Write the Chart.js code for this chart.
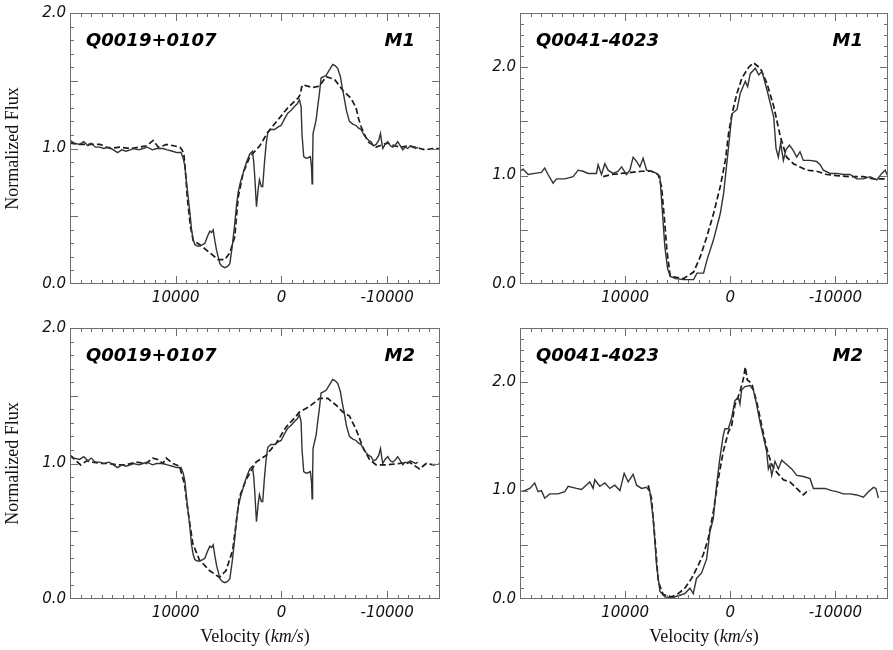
<!DOCTYPE html>
<html>
<head>
<meta charset="utf-8">
<script src="https://cdn.jsdelivr.net/npm/chart.js"></script>
<style>
    html, body { margin: 0; padding: 0; background: #fff; }
    #wrap { position: relative; width: 893px; height: 650px; }
    canvas { position: absolute; }
</style>
</head>
<body>
<div id="wrap">
    <canvas id="tl" width="446" height="312" style="left:0;top:0"></canvas>
    <canvas id="tr" width="447" height="312" style="left:446px;top:0"></canvas>
    <canvas id="bl" width="446" height="338" style="left:0;top:312px"></canvas>
    <canvas id="br" width="447" height="338" style="left:446px;top:312px"></canvas>
</div>
<script>
// Q0019+0107 observed spectrum (same in M1 and M2 panels)
const q0019Vel = [20000, 19600, 19100, 18700, 18300, 18000, 17600, 17200, 16800, 16300, 15900, 15500, 15100, 14700, 14300, 14000, 13500, 13100, 12700, 12200, 11800, 11200, 10800, 10300, 9900, 9500, 9300, 9130, 8980, 8820, 8650, 8500, 8350, 8190, 7950, 7715, 7450, 7240, 7000, 6770, 6600, 6455, 6300, 6140, 5980, 5825, 5600, 5350, 5100, 4880, 4650, 4410, 4250, 4090, 3850, 3620, 3300, 2990, 2740, 2620, 2520, 2420, 2360, 2200, 2080, 1900, 1770, 1610, 1450, 1290, 1000, 660, 300, 30, -300, -600, -900, -1230, -1500, -1700, -1860, -1950, -2110, -2300, -2490, -2740, -2850, -2900, -2950, -2990, -3280, -3450, -3600, -3750, -4000, -4230, -4540, -4860, -5100, -5330, -5580, -5750, -5900, -6150, -6430, -6750, -7060, -7300, -7540, -7800, -8010, -8250, -8480, -8700, -8960, -9200, -9370, -9500, -9590, -9800, -10060, -10300, -10530, -10800, -11000, -11250, -11480, -11700, -11950, -12200, -12430, -12700, -12900];
const q0019Flux = [1.06, 1.04, 1.03, 1.05, 1.02, 1.04, 1.01, 1.01, 1.00, 1.01, 0.99, 0.97, 0.99, 0.98, 0.99, 1.00, 0.99, 1.00, 1.01, 0.99, 1.00, 1.00, 0.99, 0.98, 0.97, 0.97, 0.93, 0.87, 0.75, 0.64, 0.52, 0.40, 0.33, 0.29, 0.28, 0.28, 0.29, 0.30, 0.35, 0.39, 0.38, 0.40, 0.32, 0.25, 0.20, 0.15, 0.13, 0.12, 0.13, 0.15, 0.28, 0.45, 0.58, 0.68, 0.76, 0.82, 0.90, 0.96, 0.98, 0.90, 0.79, 0.65, 0.57, 0.70, 0.77, 0.72, 0.72, 0.89, 1.03, 1.12, 1.14, 1.14, 1.16, 1.17, 1.22, 1.26, 1.28, 1.31, 1.33, 1.36, 1.31, 1.10, 0.94, 0.93, 0.93, 0.94, 0.86, 0.74, 0.90, 1.11, 1.21, 1.32, 1.41, 1.52, 1.53, 1.54, 1.58, 1.62, 1.61, 1.59, 1.53, 1.45, 1.39, 1.28, 1.20, 1.18, 1.17, 1.15, 1.14, 1.10, 1.08, 1.06, 1.05, 1.02, 1.03, 1.06, 1.11, 1.04, 1.00, 1.03, 1.05, 1.02, 1.01, 1.03, 1.05, 1.02, 0.99, 1.01, 1.00, 1.02, 1.01, 1.00, 1.01];

// Q0019+0107 model M1
const q0019M1Vel = [20000, 19000, 18110, 17165, 16220, 15275, 14330, 13385, 12800, 12440, 12130, 11650, 11200, 10865, 10200, 9605, 9400, 9230, 9050, 8910, 8600, 8345, 7715, 6770, 5980, 5350, 4880, 4410, 4250, 4090, 3620, 2990, 2045, 1290, 345, -600, -1545, -1800, -1900, -2020, -2960, -3600, -4230, -5015, -5800, -6590, -7060, -7300, -7540, -8170, -8960, -9600, -10060, -10700, -11300, -12000, -12600, -13100, -13630, -14300, -14890];
const q0019M1Flux = [1.04, 1.03, 1.03, 1.03, 1.00, 1.01, 1.00, 1.01, 1.02, 1.04, 1.06, 1.01, 1.02, 1.03, 1.02, 1.01, 0.99, 0.96, 0.80, 0.64, 0.42, 0.32, 0.29, 0.23, 0.18, 0.18, 0.23, 0.35, 0.50, 0.64, 0.82, 0.94, 1.02, 1.12, 1.21, 1.30, 1.37, 1.40, 1.45, 1.47, 1.45, 1.46, 1.53, 1.51, 1.43, 1.37, 1.30, 1.22, 1.16, 1.05, 1.01, 1.03, 1.04, 1.02, 1.01, 1.02, 1.01, 1.00, 0.99, 1.00, 1.00];

// Q0019+0107 model M2
const q0019M2Vel = [20000, 19000, 18400, 17850, 17000, 16270, 15500, 14700, 13750, 12800, 12170, 11700, 11220, 10900, 10280, 9650, 9170, 8860, 8390, 7760, 6810, 5870, 5240, 4610, 4300, 3980, 3350, 2400, 1450, 500, -450, -1400, -1700, -2650, -3600, -4390, -4700, -5180, -5810, -6440, -7070, -7700, -8330, -8960, -9910, -11170, -12100, -13060, -13700, -14400, -15000];
const q0019M2Flux = [1.06, 0.99, 1.02, 1.01, 1.00, 1.00, 0.99, 0.99, 1.01, 1.00, 1.04, 1.03, 1.00, 1.04, 1.00, 0.98, 0.85, 0.66, 0.41, 0.29, 0.21, 0.16, 0.21, 0.36, 0.55, 0.75, 0.88, 1.01, 1.06, 1.15, 1.27, 1.35, 1.38, 1.42, 1.48, 1.48, 1.46, 1.43, 1.38, 1.35, 1.25, 1.12, 1.03, 0.99, 0.99, 1.00, 1.01, 0.96, 1.00, 0.99, 1.00];

// Q0041-4023 observed spectrum, M1 panel
const q0041aVel = [20020, 19700, 19230, 18600, 17970, 17650, 17330, 16850, 16530, 15740, 14950, 14470, 14000, 13520, 12730, 12570, 12250, 11930, 11620, 11140, 10660, 10340, 9870, 9550, 9240, 8910, 8600, 8290, 7960, 7480, 7010, 6690, 6470, 6220, 5960, 5710, 5200, 4440, 3490, 3170, 2540, 2220, 1590, 950, 630, 400, 160, -160, -640, -950, -1430, -1650, -1900, -2380, -2700, -3020, -3490, -4130, -4350, -4570, -4790, -5050, -5300, -5620, -5940, -6320, -6630, -6950, -7590, -8220, -8540, -8850, -9490, -10120, -10760, -11390, -12030, -12660, -13300, -13930, -14410, -14730, -15000];
const q0041aFlux = [1.04, 1.06, 1.01, 1.02, 1.03, 1.07, 1.01, 0.93, 0.97, 0.97, 0.99, 1.05, 1.04, 1.02, 1.02, 1.10, 1.01, 1.11, 1.05, 1.02, 1.04, 1.08, 1.01, 1.05, 1.17, 1.13, 1.08, 1.16, 1.05, 1.04, 1.02, 0.99, 0.68, 0.34, 0.14, 0.07, 0.05, 0.04, 0.04, 0.10, 0.10, 0.22, 0.41, 0.65, 0.84, 1.05, 1.27, 1.57, 1.61, 1.76, 1.87, 1.82, 1.94, 1.99, 1.93, 1.96, 1.79, 1.54, 1.25, 1.17, 1.30, 1.14, 1.24, 1.28, 1.24, 1.17, 1.22, 1.14, 1.14, 1.13, 1.10, 1.05, 1.02, 1.02, 1.01, 1.01, 0.97, 0.97, 0.99, 0.96, 1.02, 1.05, 0.99];

// Q0041-4023 model M1
const q0041M1Vel = [12090, 11300, 10340, 9390, 8440, 7480, 6860, 6540, 6280, 6030, 5710, 4440, 3490, 2860, 2220, 1590, 950, 470, 160, -160, -640, -1110, -1750, -2220, -2860, -3490, -4130, -4760, -5360, -6000, -6630, -7270, -8220, -9170, -10120, -11390, -12660, -13620, -14700, -15000];
const q0041M1Flux = [0.99, 1.01, 1.02, 1.03, 1.04, 1.04, 1.01, 0.90, 0.62, 0.31, 0.07, 0.05, 0.11, 0.25, 0.44, 0.65, 0.90, 1.14, 1.39, 1.57, 1.76, 1.90, 2.00, 2.04, 1.99, 1.85, 1.64, 1.36, 1.17, 1.11, 1.08, 1.05, 1.04, 1.01, 1.00, 0.99, 0.99, 0.97, 0.97, 0.99];

// Q0041-4023 observed spectrum, M2 panel
const q0041bVel = [20020, 19550, 19070, 18600, 18280, 17960, 17650, 17170, 16380, 15740, 15420, 14630, 14150, 13360, 13050, 12890, 12410, 11930, 11460, 10980, 10500, 10090, 9710, 9240, 8910, 8440, 7960, 7650, 7330, 7010, 6690, 6220, 5580, 4950, 4320, 3840, 3520, 3210, 2730, 2250, 1940, 1620, 1300, 990, 670, 510, 190, -130, -440, -760, -920, -1080, -1400, -1870, -2190, -2510, -2830, -3140, -3460, -3620, -3780, -3940, -4250, -4570, -4890, -5360, -5840, -6320, -6950, -7590, -7900, -8380, -9010, -9650, -10120, -10760, -11390, -12030, -12660, -13140, -13620, -13850, -14090];
const q0041bFlux = [0.99, 1.00, 1.02, 1.07, 0.99, 1.00, 0.93, 0.97, 0.97, 0.99, 1.04, 1.02, 1.01, 1.08, 1.02, 1.10, 1.04, 1.07, 1.02, 1.05, 1.00, 1.16, 1.08, 1.15, 1.05, 1.02, 1.03, 0.99, 0.74, 0.31, 0.07, 0.02, 0.01, 0.03, 0.05, 0.10, 0.05, 0.19, 0.24, 0.37, 0.62, 0.74, 1.05, 1.30, 1.51, 1.57, 1.57, 1.67, 1.83, 1.86, 1.80, 1.93, 1.96, 1.97, 1.93, 1.79, 1.63, 1.50, 1.36, 1.20, 1.24, 1.14, 1.27, 1.20, 1.28, 1.24, 1.20, 1.14, 1.13, 1.11, 1.02, 1.02, 1.02, 1.00, 0.99, 0.97, 0.97, 0.96, 0.94, 0.99, 1.03, 1.02, 0.93];

// Q0041-4023 model M2
const q0041M2Vel = [7800, 7500, 7170, 6850, 6380, 5580, 4950, 4320, 3680, 3050, 2570, 2090, 1620, 1140, 670, 190, -130, -440, -920, -1240, -1430, -1620, -2030, -2510, -2990, -3460, -3940, -4410, -5050, -5680, -6320, -6950, -7270, -7590];
const q0041M2Flux = [1.05, 0.93, 0.56, 0.16, 0.04, 0.02, 0.05, 0.10, 0.19, 0.31, 0.41, 0.56, 0.80, 1.11, 1.36, 1.54, 1.60, 1.79, 1.91, 2.03, 2.14, 2.02, 1.99, 1.82, 1.60, 1.39, 1.24, 1.17, 1.10, 1.08, 1.02, 0.96, 0.99, 1.00];

// axis ticks
const velMin = -15000;
const velMax = 20000;
const velStep = 1000;
const velLabels = [10000, 0, -10000];
const fluxStep = 0.1;
const fluxLabels = [0, 1, 2];

const tickFont = { family: 'DejaVu Sans', style: 'italic', size: 15 };
const serif = '"Liberation Serif", "Times New Roman", serif';

function zip(xs, ys) {
    return xs.map((x, i) => ({ x: x, y: ys[i] }));
}

function panelPlugin(opts) {
    return {
        id: 'panel',
        afterDraw(chart) {
            const { ctx, chartArea: a, scales: { x, y } } = chart;
            ctx.save();
            // Rahmen mit Ticks nach innen
            ctx.strokeStyle = '#6e6e6e';
            ctx.lineWidth = 1;
            ctx.strokeRect(Math.round(a.left) + 0.5, Math.round(a.top) + 0.5, Math.round(a.width) - 1, Math.round(a.height) - 1);
            ctx.beginPath();
            x.ticks.forEach(t => {
                if (t.value <= velMin || t.value >= velMax) return;
                const px = Math.round(x.getPixelForValue(t.value)) + 0.5;
                const len = t.value % 10000 === 0 ? 8 : 4;
                ctx.moveTo(px, a.bottom); ctx.lineTo(px, a.bottom - len);
                ctx.moveTo(px, a.top); ctx.lineTo(px, a.top + len);
            });
            y.ticks.forEach(t => {
                if (t.value <= 0 || t.value >= y.max - 1e-6) return;
                const py = Math.round(y.getPixelForValue(t.value)) + 0.5;
                const half = Math.abs(t.value * 2 - Math.round(t.value * 2)) < 1e-6;
                const len = half ? 8 : 4;
                ctx.moveTo(a.left, py); ctx.lineTo(a.left + len, py);
                ctx.moveTo(a.right, py); ctx.lineTo(a.right - len, py);
            });
            ctx.stroke();

            // Objekt- und Modellname
            ctx.fillStyle = '#000';
            ctx.font = 'italic bold 18px "DejaVu Sans"';
            ctx.textBaseline = 'alphabetic';
            ctx.textAlign = 'left';
            ctx.fillText(opts.name, a.left + 16, a.top + 33);
            ctx.textAlign = 'right';
            ctx.fillText(opts.model, a.right - 25, a.top + 33);

            // x-Achsentitel mit kursivem km/s
            if (opts.xTitle) {
                const parts = [
                    ['Velocity (', '18px ' + serif],
                    ['km/s', 'italic 18px ' + serif],
                    [')', '18px ' + serif]
                ];
                let total = 0;
                parts.forEach(p => { ctx.font = p[1]; total += ctx.measureText(p[0]).width; });
                let cx = (a.left + a.right) / 2 - total / 2;
                ctx.textAlign = 'left';
                ctx.textBaseline = 'middle';
                ctx.fillStyle = '#111';
                parts.forEach(p => {
                    ctx.font = p[1];
                    ctx.fillText(p[0], cx, a.bottom + 38);
                    cx += ctx.measureText(p[0]).width;
                });
            }
            ctx.restore();
        }
    };
}

function makePanel(id, opts) {
    const ctx = document.getElementById(id).getContext('2d');
    return new Chart(ctx, {
        type: 'line',
        data: {
            datasets: [
                {
                    data: zip(opts.obsVel, opts.obsFlux),
                    borderColor: '#333333',
                    borderWidth: 1.4,
                    pointRadius: 0,
                    tension: 0
                },
                {
                    data: zip(opts.modVel, opts.modFlux),
                    borderColor: '#1a1a1a',
                    borderWidth: 1.7,
                    borderDash: [6, 3],
                    pointRadius: 0,
                    tension: 0
                }
            ]
        },
        options: {
            responsive: false,
            animation: false,
            devicePixelRatio: 1,
            layout: { padding: { top: opts.padTop, right: opts.padRight, left: 0, bottom: 0 } },
            plugins: { legend: { display: false }, tooltip: { enabled: false } },
            scales: {
                x: {
                    type: 'linear',
                    reverse: true,
                    min: velMin,
                    max: velMax,
                    grid: { display: false, drawTicks: false },
                    border: { display: false },
                    ticks: {
                        stepSize: velStep,
                        autoSkip: false,
                        maxRotation: 0,
                        padding: 5,
                        color: '#111',
                        font: tickFont,
                        callback: v => velLabels.includes(v) ? String(v) : ''
                    },
                    afterFit: s => { s.height = opts.xHeight; }
                },
                y: {
                    type: 'linear',
                    min: 0,
                    max: opts.yMax,
                    grid: { display: false, drawTicks: false },
                    border: { display: false },
                    ticks: {
                        stepSize: fluxStep,
                        autoSkip: false,
                        padding: 4,
                        color: '#111',
                        font: tickFont,
                        callback: v => fluxLabels.some(l => Math.abs(v - l) < 1e-6) ? v.toFixed(1) : ''
                    },
                    title: {
                        display: opts.yTitle,
                        text: 'Normalized Flux',
                        color: '#111',
                        font: { family: serif, size: 18 },
                        padding: { top: 2, bottom: 0 }
                    },
                    afterFit: s => { s.width = opts.yWidth; }
                }
            }
        },
        plugins: [panelPlugin(opts)]
    });
}

makePanel('tl', { name: 'Q0019+0107', model: 'M1', obsVel: q0019Vel, obsFlux: q0019Flux, modVel: q0019M1Vel, modFlux: q0019M1Flux,
    yMax: 2, yWidth: 70, xHeight: 28, padTop: 13, padRight: 6, yTitle: true, xTitle: false });
makePanel('tr', { name: 'Q0041-4023', model: 'M1', obsVel: q0041aVel, obsFlux: q0041aFlux, modVel: q0041M1Vel, modFlux: q0041M1Flux,
    yMax: 2.5, yWidth: 74, xHeight: 28, padTop: 13, padRight: 4, yTitle: false, xTitle: false });
makePanel('bl', { name: 'Q0019+0107', model: 'M2', obsVel: q0019Vel, obsFlux: q0019Flux, modVel: q0019M2Vel, modFlux: q0019M2Flux,
    yMax: 2, yWidth: 70, xHeight: 51, padTop: 16, padRight: 6, yTitle: true, xTitle: true });
makePanel('br', { name: 'Q0041-4023', model: 'M2', obsVel: q0041bVel, obsFlux: q0041bFlux, modVel: q0041M2Vel, modFlux: q0041M2Flux,
    yMax: 2.5, yWidth: 74, xHeight: 51, padTop: 16, padRight: 4, yTitle: false, xTitle: true });
</script>
</body>
</html>
